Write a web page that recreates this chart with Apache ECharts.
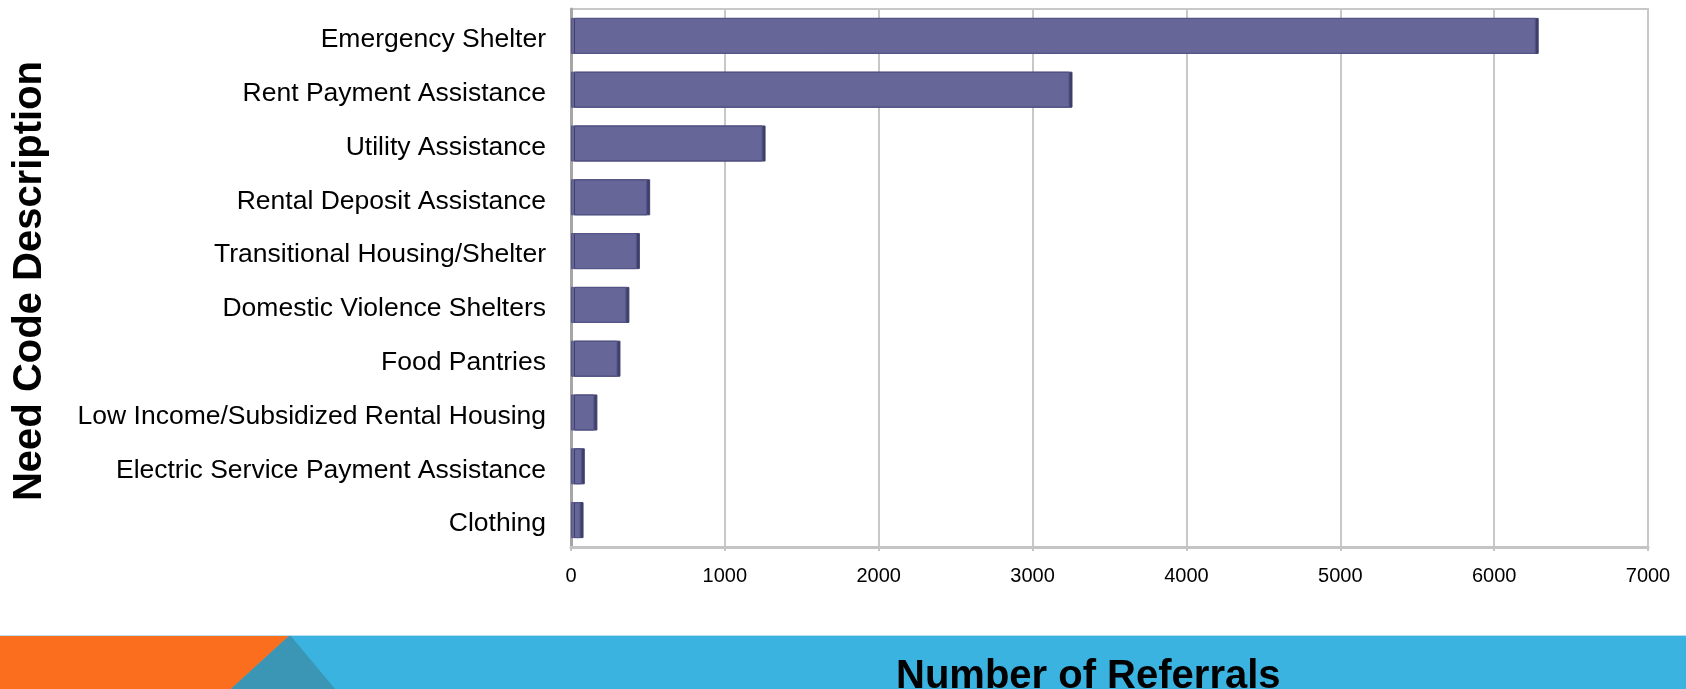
<!DOCTYPE html>
<html>
<head>
<meta charset="utf-8">
<script src="https://cdn.jsdelivr.net/npm/echarts@6/dist/echarts.min.js"></script>
<style>
  html, body { margin: 0; padding: 0; background: #ffffff; }
  #chart { width: 1686px; height: 689px; }
</style>
</head>
<body>
<div id="chart"></div>
<script>
// Referral counts by need code, listed top to bottom
const categories = [
  'Emergency Shelter',
  'Rent Payment Assistance',
  'Utility Assistance',
  'Rental Deposit Assistance',
  'Transitional Housing/Shelter',
  'Domestic Violence Shelters',
  'Food Pantries',
  'Low Income/Subsidized Rental Housing',
  'Electric Service Payment Assistance',
  'Clothing'
];
const referrals = [6270, 3240, 1245, 495, 428, 360, 302, 152, 70, 62];
const xTicks = { min: 0, max: 7000, interval: 1000 };

const FONT = '"Liberation Sans", Arial, sans-serif';
const W = 1686, H = 689;
const bannerTop = 635;

const chart = echarts.init(document.getElementById('chart'), null, { renderer: 'canvas' });

chart.setOption({
  animation: false,
  backgroundColor: '#ffffff',
  textStyle: { fontFamily: FONT },
  title: {
    text: 'Number of Referrals',
    left: 891,
    top: 652,
    z: 10,
    textStyle: { fontFamily: FONT, fontSize: 40, fontWeight: 'bold', color: '#000000' }
  },
  grid: {
    left: 571, right: 38, top: 9, bottom: 142,
    show: true, borderColor: '#c8c8c8', borderWidth: 2
  },
  xAxis: {
    type: 'value',
    min: xTicks.min, max: xTicks.max, interval: xTicks.interval,
    axisLine: { show: true, lineStyle: { color: '#c4c4c4', width: 3 } },
    axisTick: { show: true, length: 4, lineStyle: { color: '#c4c4c4', width: 2 } },
    splitLine: { show: true, lineStyle: { color: '#c8c8c8', width: 2 } },
    axisLabel: {
      color: '#000000', fontSize: 20, fontFamily: FONT, margin: 19,
      formatter: v => String(v)
    }
  },
  yAxis: {
    type: 'category',
    inverse: true,
    data: categories,
    name: 'Need Code Description',
    nameLocation: 'middle',
    nameRotate: 90,
    nameGap: 521,
    nameTextStyle: {
      fontFamily: FONT, fontSize: 40, fontWeight: 'bold', color: '#000000',
      padding: [0, 6, 0, 0]
    },
    axisLine: { show: true, lineStyle: { color: '#a6a6a6', width: 3 } },
    axisTick: { show: false },
    splitLine: { show: false },
    axisLabel: {
      color: '#000000', fontSize: 26.5, fontFamily: FONT, margin: 25,
      verticalAlign: 'top', lineHeight: 8
    }
  },
  series: [{
    type: 'bar',
    data: referrals,
    barCategoryGap: '33%',
    itemStyle: {
      color: '#666698',
      borderColor: '#56568a',
      borderWidth: 1,
      shadowColor: '#3f3f6c',
      shadowOffsetX: 3,
      shadowOffsetY: 0,
      shadowBlur: 0
    }
  }],
  graphic: [
    {
      type: 'rect', z: 0, silent: true,
      shape: { x: 0, y: bannerTop, width: W, height: H - bannerTop },
      style: { fill: '#3bb3e0' }
    },
    {
      type: 'polygon', z: 1, silent: true,
      shape: { points: [[0, bannerTop], [290, bannerTop], [231, H], [0, H]] },
      style: { fill: '#fa6e1e' }
    },
    {
      type: 'polygon', z: 1, silent: true,
      shape: { points: [[290, bannerTop], [231, H], [335, H]] },
      style: { fill: '#3a96b4' }
    },
    {
      type: 'rect', z: 2, silent: true,
      shape: { x: 0, y: bannerTop, width: W, height: 1 },
      style: { fill: '#b6e0f2' }
    }
  ]
});
</script>
</body>
</html>
